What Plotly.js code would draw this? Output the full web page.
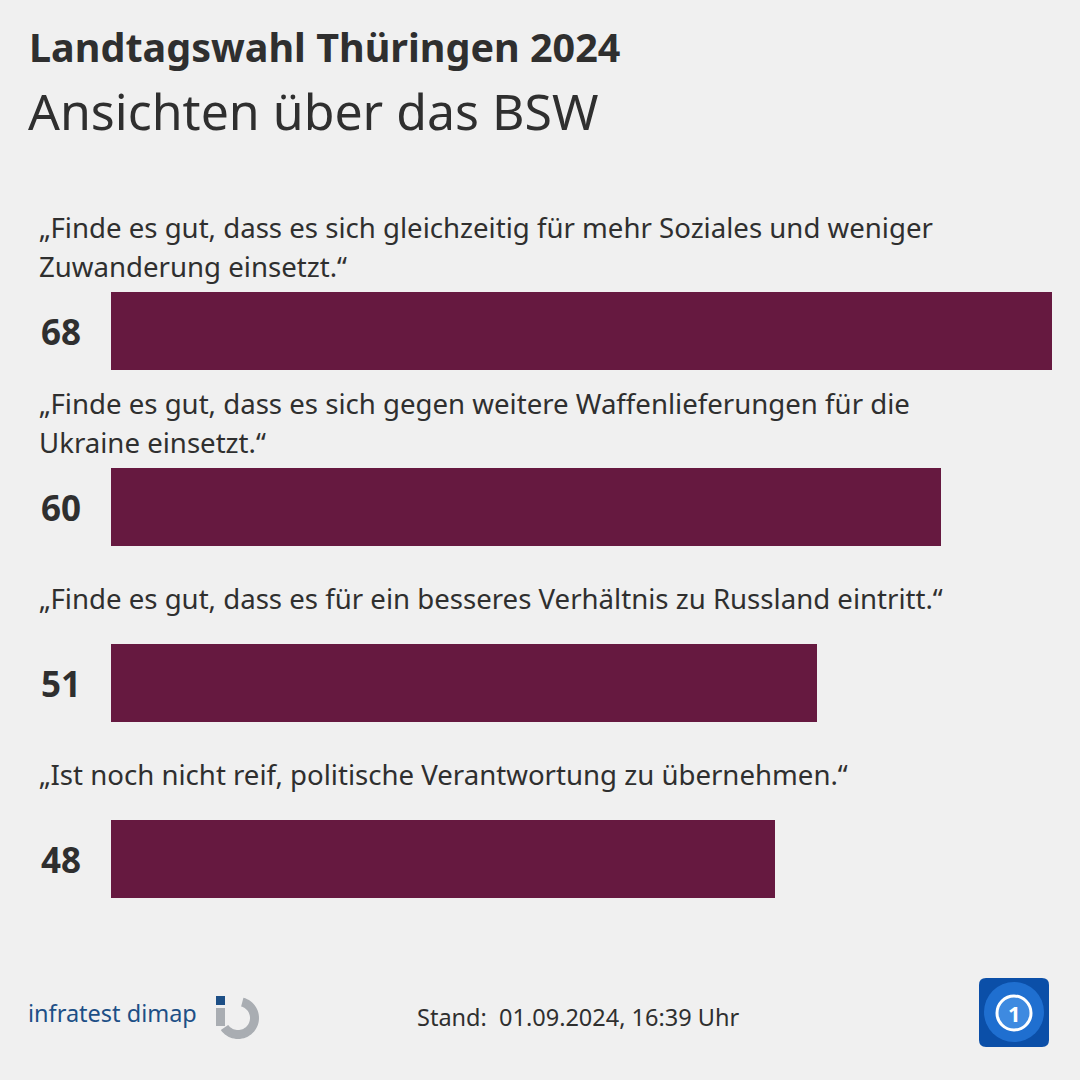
<!DOCTYPE html>
<html>
<head>
<meta charset="utf-8">
<script src="https://cdn.plot.ly/plotly-3.0.1.min.js"></script>
<style>
html,body{margin:0;padding:0;background:#f0f0f0;}
#chart{width:1080px;height:1080px;}
</style>
</head>
<body>
<div id="chart"></div>
<script>
// ---- data ----
const statements = [
  "„Finde es gut, dass es sich gleichzeitig für mehr Soziales und weniger<br>Zuwanderung einsetzt.“",
  "„Finde es gut, dass es sich gegen weitere Waffenlieferungen für die<br>Ukraine einsetzt.“",
  "„Finde es gut, dass es für ein besseres Verhältnis zu Russland eintritt.“",
  "„Ist noch nicht reif, politische Verantwortung zu übernehmen.“"
];
const values = [68, 60, 51, 48];
const positions = [0, 1, 2, 3];
const titleText = "Landtagswahl Thüringen 2024";
const subtitleText = "Ansichten über das BSW";
const sourceText = "Stand:  01.09.2024, 16:39 Uhr";
const logoText = "infratest dimap";

// ---- layout helpers ----
const W = 1080, H = 1080;
const px = v => v / W;
const py = v => 1 - v / H;
const BAR_W = 0.443;
const Y_RANGE = [3.5, -0.5];
const Y_DOMAIN = [py(947), py(243)];
const UNIT_PX = 176;           // pixels per category step
const textColor = "#2f2f2f";
const barColor = "#661940";
const font = "'Noto Sans', 'Open Sans', sans-serif";
// map a y data value to paper coordinate (reversed axis)
const yToPaper = v => Y_DOMAIN[1] - (v - Y_RANGE[1]) / (Y_RANGE[0] - Y_RANGE[1]) * (Y_DOMAIN[1] - Y_DOMAIN[0]);

const trace = {
  type: "bar",
  orientation: "h",
  x: values,
  y: positions,
  width: BAR_W,
  marker: {color: barColor},
  hoverinfo: "skip"
};

const annotations = [];
statements.forEach((s, i) => {
  const lines = s.split("<br>");
  const centre = positions[i] - BAR_W / 2 - 46 / UNIT_PX;
  const step = 39 / UNIT_PX;
  lines.forEach((ln, k) => {
    annotations.push({
      xref: "paper", yref: "paper",
      x: px(37), y: yToPaper(centre + (k - (lines.length - 1) / 2) * step),
      xanchor: "left", yanchor: "middle", align: "left",
      text: ln, showarrow: false,
      font: {family: font, size: 27.6, color: textColor}
    });
  });
  annotations.push({
    xref: "paper", yref: "y",
    x: px(61), y: positions[i],
    xanchor: "center", yanchor: "middle",
    text: "<b>" + values[i] + "</b>", showarrow: false,
    font: {family: font, size: 35, color: textColor}
  });
});
annotations.push(
  {xref: "paper", yref: "paper", x: px(27), y: py(47), xanchor: "left", yanchor: "middle",
   text: "<b>" + titleText + "</b>", showarrow: false,
   font: {family: font, size: 39.5, color: textColor}},
  {xref: "paper", yref: "paper", x: px(26), y: py(111), xanchor: "left", yanchor: "middle",
   text: subtitleText, showarrow: false,
   font: {family: font, size: 50, color: textColor}},
  {xref: "paper", yref: "paper", x: px(578), y: py(1017), xanchor: "center", yanchor: "middle",
   text: sourceText, showarrow: false,
   font: {family: font, size: 23.5, color: textColor}},
  {xref: "paper", yref: "paper", x: px(26), y: py(1013), xanchor: "left", yanchor: "middle",
   text: logoText, showarrow: false,
   font: {family: font, size: 23.5, color: "#1d4f86"}},
  {xref: "paper", yref: "paper", x: px(1014), y: py(1013), xanchor: "center", yanchor: "middle",
   text: "<b>1</b>", showarrow: false,
   font: {family: font, size: 22, color: "#ffffff"}}
);

// rounded rect path in paper coords
function roundRect(x0, y0, x1, y1, r) {
  const X0 = px(x0), X1 = px(x1), Y0 = py(y0), Y1 = py(y1), R = r / W;
  return `M ${X0+R} ${Y0} L ${X1-R} ${Y0} Q ${X1} ${Y0} ${X1} ${Y0-R} L ${X1} ${Y1+R} Q ${X1} ${Y1} ${X1-R} ${Y1} L ${X0+R} ${Y1} Q ${X0} ${Y1} ${X0} ${Y1+R} L ${X0} ${Y0-R} Q ${X0} ${Y0} ${X0+R} ${Y0} Z`;
}
// ring segment path in paper coords
function ringArc(cx, cy, rOut, rIn, a0, a1) {
  const n = 40; let d = "";
  for (let k = 0; k <= n; k++) {
    const a = (a0 + (a1 - a0) * k / n) * Math.PI / 180;
    d += (k === 0 ? "M " : " L ") + px(cx + rOut * Math.cos(a)) + " " + py(cy + rOut * Math.sin(a));
  }
  for (let k = n; k >= 0; k--) {
    const a = (a0 + (a1 - a0) * k / n) * Math.PI / 180;
    d += " L " + px(cx + rIn * Math.cos(a)) + " " + py(cy + rIn * Math.sin(a));
  }
  return d + " Z";
}

const shapes = [
  // infratest dimap logo
  {type: "rect", xref: "paper", yref: "paper", x0: px(216), x1: px(225), y0: py(1005), y1: py(996),
   fillcolor: "#1d4f86", line: {width: 0}},
  {type: "path", xref: "paper", yref: "paper", path: ringArc(238, 1018, 21, 12, -75, 145),
   fillcolor: "#a9adb2", line: {width: 0}},
  {type: "rect", xref: "paper", yref: "paper", x0: px(216), x1: px(225), y0: py(1026), y1: py(1008),
   fillcolor: "#a9adb2", line: {width: 0}},
  // tagesschau logo
  {type: "path", xref: "paper", yref: "paper", path: roundRect(979, 978, 1049, 1047, 7),
   fillcolor: "#0b4fa8", line: {width: 0}},
  {type: "circle", xref: "paper", yref: "paper", x0: px(984), x1: px(1044), y0: py(1042), y1: py(982),
   fillcolor: "#1f6fd0", line: {width: 0}},
  {type: "circle", xref: "paper", yref: "paper", x0: px(997), x1: px(1031), y0: py(1030), y1: py(996),
   fillcolor: "rgba(120,190,255,0.35)", line: {color: "#ffffff", width: 3}}
];

const layout = {
  width: W, height: H,
  margin: {l: 0, r: 0, t: 0, b: 0},
  paper_bgcolor: "#f0f0f0",
  plot_bgcolor: "#f0f0f0",
  showlegend: false,
  bargap: 0,
  xaxis: {domain: [px(111), px(1052)], range: [0, 68], visible: false, fixedrange: true},
  yaxis: {domain: Y_DOMAIN, range: Y_RANGE, visible: false, fixedrange: true},
  annotations: annotations,
  shapes: shapes
};

Plotly.newPlot("chart", [trace], layout, {displayModeBar: false, staticPlot: true});
</script>
</body>
</html>
